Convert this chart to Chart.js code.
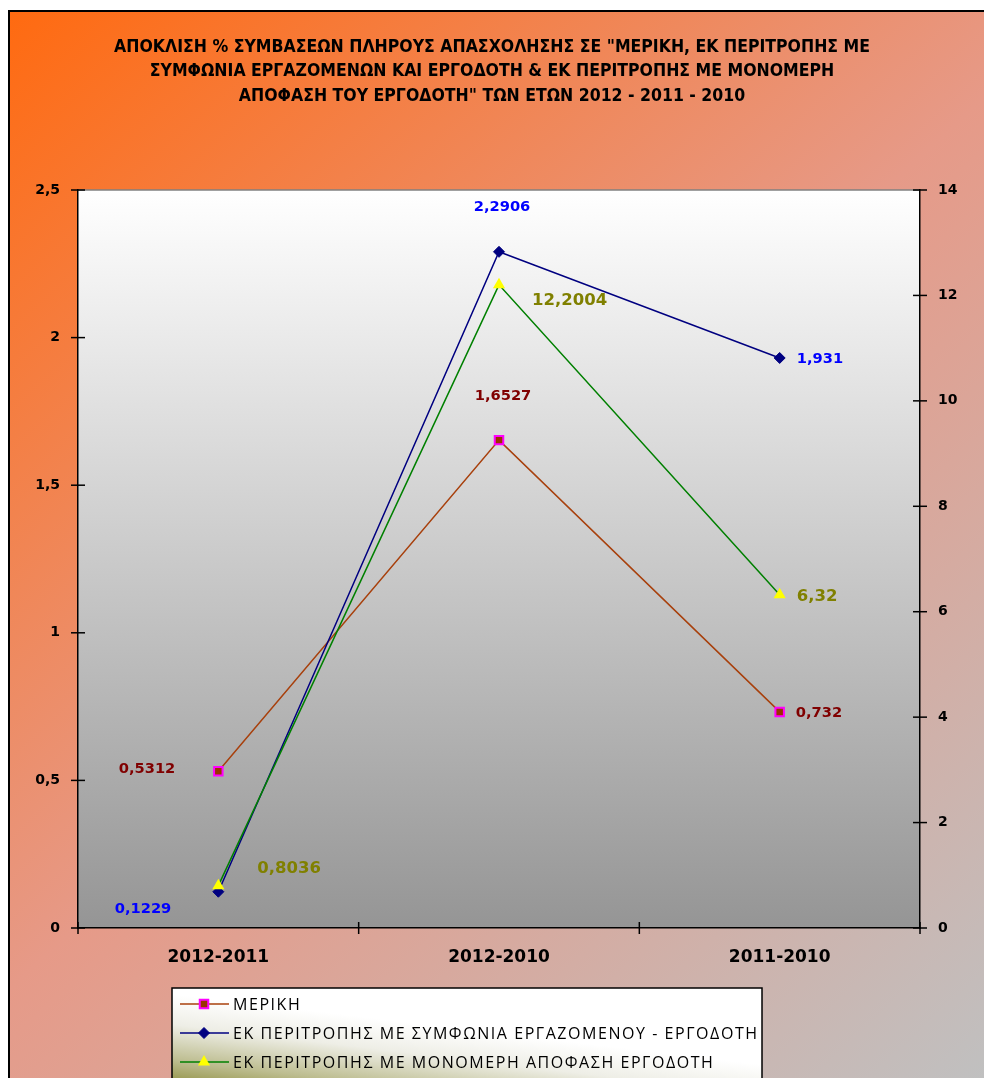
<!DOCTYPE html>
<html>
<head>
<meta charset="utf-8">
<style>
html,body{margin:0;padding:0;background:#fff;}
#wrap{width:984px;height:1078px;position:relative;}
</style>
<script src="https://cdn.jsdelivr.net/npm/chart.js@4.4.1/dist/chart.umd.min.js"></script>
</head>
<body>
<div id="wrap"><canvas id="c"></canvas></div>
<script>
// ---------- data ----------
const titleLines = [
  'ΑΠΟΚΛΙΣΗ % ΣΥΜΒΑΣΕΩΝ ΠΛΗΡΟΥΣ ΑΠΑΣΧΟΛΗΣΗΣ ΣΕ "ΜΕΡΙΚΗ, ΕΚ ΠΕΡΙΤΡΟΠΗΣ ΜΕ',
  'ΣΥΜΦΩΝΙΑ ΕΡΓΑΖΟΜΕΝΩΝ ΚΑΙ ΕΡΓΟΔΟΤΗ & ΕΚ ΠΕΡΙΤΡΟΠΗΣ ΜΕ ΜΟΝΟΜΕΡΗ',
  'ΑΠΟΦΑΣΗ ΤΟΥ ΕΡΓΟΔΟΤΗ" ΤΩΝ ΕΤΩΝ 2012 - 2011 - 2010'
];
const categories = ['2012-2011', '2012-2010', '2011-2010'];
const seriesNames = [
  'ΜΕΡΙΚΗ',
  'ΕΚ ΠΕΡΙΤΡΟΠΗΣ ΜΕ ΣΥΜΦΩΝΙΑ ΕΡΓΑΖΟΜΕΝΟΥ - ΕΡΓΟΔΟΤΗ',
  'ΕΚ ΠΕΡΙΤΡΟΠΗΣ ΜΕ ΜΟΝΟΜΕΡΗ ΑΠΟΦΑΣΗ ΕΡΓΟΔΟΤΗ'
];
const merikiValues   = [0.5312, 1.6527, 0.732];
const symfoniaValues = [0.1229, 2.2906, 1.931];
const monomeriValues = [0.8036, 12.2004, 6.32];
const leftAxisTicks  = [0, 0.5, 1, 1.5, 2, 2.5];
const rightAxisTicks = [0, 2, 4, 6, 8, 10, 12, 14];

// ---------- presentation ----------
const labelPlacement = [
  [{dx:-43, dy:-2, align:'right'}, {dx:4, dy:-44, align:'center'}, {dx:16, dy:1, align:'left'}],
  [{dx:-47, dy:17, align:'right'}, {dx:3, dy:-45, align:'center'}, {dx:17, dy:1, align:'left'}],
  [{dx:39, dy:-17, align:'left'},  {dx:33, dy:16, align:'left'},   {dx:17, dy:2, align:'left'}]
];
const labelColors = ['#800000', '#0000FF', '#808000'];
const labelSizes = [14.7, 14.7, 16.5];
const fmt = v => String(v).replace('.', ',');

const bgPlugin = {
  id: 'bg',
  beforeDraw(chart) {
    const ctx = chart.ctx, W = chart.width, H = chart.height, a = chart.chartArea;
    ctx.save();
    ctx.fillStyle = '#fff';
    ctx.fillRect(0, 0, W, H);
    const g = ctx.createLinearGradient(8, 10, W, H);
    g.addColorStop(0, '#FF6A10');
    g.addColorStop(0.5, '#E69A88');
    g.addColorStop(1, '#C0C0C0');
    ctx.fillStyle = g;
    ctx.fillRect(8, 10, W - 8, H - 10);
    ctx.strokeStyle = '#000';
    ctx.lineWidth = 2;
    ctx.beginPath();
    ctx.moveTo(9, H); ctx.lineTo(9, 11); ctx.lineTo(W, 11);
    ctx.stroke();
    const pg = ctx.createLinearGradient(0, a.top, 0, a.bottom);
    pg.addColorStop(0, '#FFFFFF');
    pg.addColorStop(1, '#959595');
    ctx.fillStyle = pg;
    ctx.fillRect(a.left, a.top, a.right - a.left, a.bottom - a.top);
    ctx.strokeStyle = '#808080';
    ctx.lineWidth = 1.5;
    ctx.beginPath();
    ctx.moveTo(a.left, a.top); ctx.lineTo(a.right, a.top);
    ctx.stroke();
    ctx.restore();
  }
};

const ticksPlugin = {
  id: 'crossTicks',
  afterDraw(chart) {
    const ctx = chart.ctx;
    const {x, y, y1} = chart.scales;
    ctx.save();
    ctx.strokeStyle = '#000';
    ctx.lineWidth = 1.5;
    const seg = (x0, y0, x1, y1_) => { ctx.beginPath(); ctx.moveTo(x0, y0); ctx.lineTo(x1, y1_); ctx.stroke(); };
    y.ticks.forEach((t, i) => { const p = y.getPixelForTick(i); seg(y.right - 7, p, y.right + 7, p); });
    y1.ticks.forEach((t, i) => { const p = y1.getPixelForTick(i); seg(y1.left - 7, p, y1.left + 7, p); });
    const n = x.ticks.length;
    for (let i = 0; i <= n; i++) {
      let p;
      if (i === 0) p = x.left;
      else if (i === n) p = x.right;
      else p = (x.getPixelForTick(i - 1) + x.getPixelForTick(i)) / 2;
      seg(p, x.top - 6, p, x.top + 6);
    }
    ctx.restore();
  }
};

const labelsPlugin = {
  id: 'pointLabels',
  afterDatasetsDraw(chart) {
    const ctx = chart.ctx;
    ctx.save();
    chart.data.datasets.forEach((ds, di) => {
      const meta = chart.getDatasetMeta(di);
      meta.data.forEach((pt, i) => {
        const pl = labelPlacement[di][i];
        ctx.font = 'bold ' + labelSizes[di] + 'px "DejaVu Sans", Verdana, sans-serif';
        ctx.fillStyle = labelColors[di];
        ctx.textAlign = pl.align;
        ctx.textBaseline = 'middle';
        ctx.fillText(fmt(ds.data[i]), pt.x + pl.dx, pt.y + pl.dy);
      });
    });
    ctx.restore();
  }
};

const legendPlugin = {
  id: 'boxLegend',
  afterDraw(chart) {
    const ctx = chart.ctx;
    const bx = 172, by = 988, bw = 590, bh = 130;
    ctx.save();
    const g = ctx.createLinearGradient(172, 994, 160, 1094);
    g.addColorStop(0, '#FFFFFF');
    g.addColorStop(0.3, '#EEEEE6');
    g.addColorStop(0.65, '#BDBD90');
    g.addColorStop(1, '#7E7E22');
    ctx.fillStyle = g;
    ctx.fillRect(bx, by, bw, bh);
    ctx.strokeStyle = '#000';
    ctx.lineWidth = 1.5;
    ctx.strokeRect(bx, by, bw, bh);
    chart.data.datasets.forEach((ds, di) => {
      const rowY = by + 16 + di * 29;
      ctx.strokeStyle = ds.borderColor;
      ctx.lineWidth = 1.5;
      ctx.beginPath(); ctx.moveTo(180, rowY); ctx.lineTo(229, rowY); ctx.stroke();
      ctx.fillStyle = ds.pointBackgroundColor;
      ctx.strokeStyle = ds.pointBorderColor;
      ctx.lineWidth = ds.pointBorderWidth;
      Chart.helpers.drawPoint(ctx, {pointStyle: ds.pointStyle, radius: ds.pointRadius, borderWidth: ds.pointBorderWidth, rotation: 0}, 204, rowY);
      ctx.fillStyle = '#000';
      ctx.font = '16px "Open Sans", "Noto Sans", sans-serif';
      ctx.letterSpacing = '1.55px';
      ctx.textAlign = 'left';
      ctx.textBaseline = 'middle';
      ctx.fillText(seriesNames[di], 233, rowY + 1);
      ctx.letterSpacing = '0px';
    });
    ctx.restore();
  }
};

const tickFont = {family: '"DejaVu Sans", Verdana, sans-serif', size: 14, weight: 'bold'};

new Chart(document.getElementById('c'), {
  type: 'line',
  data: {
    labels: categories,
    datasets: [
      {
        label: seriesNames[0], data: merikiValues, yAxisID: 'y', order: 2,
        borderColor: '#A8400C', borderWidth: 1.5, tension: 0,
        pointStyle: 'rect', pointRadius: 6, pointBorderWidth: 2,
        pointBackgroundColor: '#993300', pointBorderColor: '#FF00FF', backgroundColor: '#993300'
      },
      {
        label: seriesNames[1], data: symfoniaValues, yAxisID: 'y', order: 1,
        borderColor: '#000080', borderWidth: 1.5, tension: 0,
        pointStyle: 'rectRot', pointRadius: 5.5, pointBorderWidth: 1,
        pointBackgroundColor: '#000080', pointBorderColor: '#000080', backgroundColor: '#000080'
      },
      {
        label: seriesNames[2], data: monomeriValues, yAxisID: 'y1', order: 0,
        borderColor: '#008000', borderWidth: 1.5, tension: 0,
        pointStyle: 'triangle', pointRadius: 7, pointBorderWidth: 0,
        pointBackgroundColor: '#FFFF00', pointBorderColor: '#FFFF00', backgroundColor: '#FFFF00'
      }
    ]
  },
  options: {
    responsive: true,
    maintainAspectRatio: false,
    devicePixelRatio: 1,
    animation: false,
    layout: {padding: 0},
    plugins: {
      legend: {display: false},
      tooltip: {enabled: false},
      title: {
        display: true,
        text: titleLines,
        color: '#000',
        font: {family: '"Liberation Sans Narrow", "DejaVu Sans Condensed", sans-serif', size: 17.5, weight: 'bold', lineHeight: '24.5px'},
        padding: {top: 34.75, bottom: 81.75}
      }
    },
    scales: {
      x: {
        type: 'category',
        offset: true,
        grid: {display: false, drawTicks: false},
        border: {display: true, color: '#000', width: 1.5},
        ticks: {color: '#000', font: {family: '"DejaVu Sans", Verdana, sans-serif', size: 17, weight: 'bold'}, padding: 19, maxRotation: 0},
        afterFit: s => { s.height = 150; }
      },
      y: {
        position: 'left',
        min: leftAxisTicks[0], max: leftAxisTicks[leftAxisTicks.length - 1],
        afterBuildTicks: s => { s.ticks = leftAxisTicks.map(v => ({value: v})); },
        grid: {display: false, drawTicks: false},
        border: {display: true, color: '#000', width: 1.5},
        ticks: {color: '#000', font: tickFont, padding: 18, callback: v => fmt(v)},
        afterFit: s => { s.width = 78; }
      },
      y1: {
        position: 'right',
        min: rightAxisTicks[0], max: rightAxisTicks[rightAxisTicks.length - 1],
        afterBuildTicks: s => { s.ticks = rightAxisTicks.map(v => ({value: v})); },
        grid: {display: false, drawTicks: false},
        border: {display: true, color: '#000', width: 1.5},
        ticks: {color: '#000', font: tickFont, padding: 18, callback: v => fmt(v)},
        afterFit: s => { s.width = 64; }
      }
    }
  },
  plugins: [bgPlugin, ticksPlugin, labelsPlugin, legendPlugin]
});
</script>
</body>
</html>
